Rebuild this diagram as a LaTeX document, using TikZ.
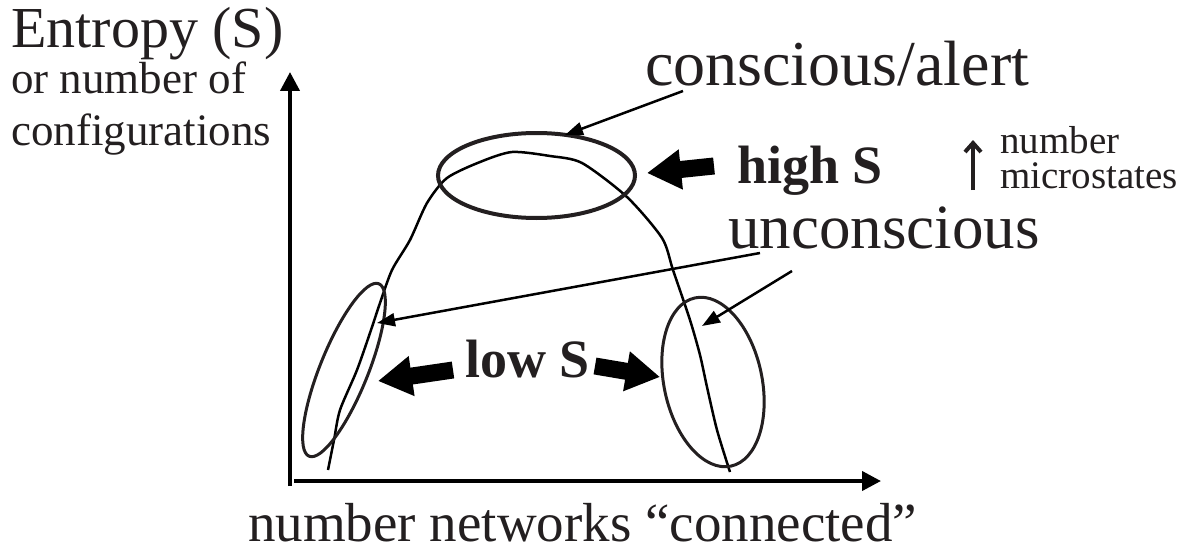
\documentclass[tikz,border=0pt]{standalone}
\usepackage{fontspec}
\setmainfont{Liberation Serif}
\usetikzlibrary{arrows.meta,shapes.geometric}
\definecolor{ink}{HTML}{231F20}
\begin{document}
\begin{tikzpicture}[x=1pt,y=-1pt,
  lbl/.style={anchor=base west,inner sep=0pt,text=ink},
  axisline/.style={line width=4pt,black,-{Triangle[length=19pt,width=19pt]}},
  curvel/.style={line width=2.5pt,black},
  ring/.style={draw=ink,ellipse,inner sep=0pt,line width=3pt},
  pointer/.style={line width=2.5pt,black,-{Triangle[length=18pt,width=13pt]}},
  blockarrow/.style={line width=17pt,black,-{Triangle[length=34pt,width=38pt]}},
  uparrow/.style={line width=4pt,ink,-{Straight Barb[length=9pt,width=16pt,line width=4pt]}}]
\useasboundingbox (0,0) rectangle (1192,551);

% axes
\coordinate (yaxB) at (290,486);
\coordinate (yaxT) at (290,72);
\coordinate (xaxL) at (294,481);
\coordinate (xaxR) at (881,481);
\draw[axisline] (yaxB) -- (yaxT);
\draw[axisline] (xaxL) -- (xaxR);

% entropy curve
\draw[curvel] plot[smooth,tension=0.45] coordinates {
 (328,470) (334,440) (340,410) (357,370) (371,330) (380,303) (392,270)
 (410,240) (427,203) (447,178) (480,162) (512,152) (550,156) (582,163)
 (627,197) (662,238) (673,270) (690,320) (700,355) (707,387) (717,430) (730,472)};

% ellipses
\node[ring,line width=4pt,minimum width=197pt,minimum height=85pt] (top) at (536.5,175.5) {};
\node[ring,minimum width=48pt,minimum height=186pt,rotate=-22] (lell) at (344,370) {};
\node[ring,minimum width=98pt,minimum height=172pt,rotate=12] (rell) at (713,382) {};

% labels
\node[lbl,font=\fontsize{58}{60}\selectfont] (ylab1) at (11,48) {Entropy (S)};
\node[lbl,font=\fontsize{45}{50}\selectfont] (ylab2) at (11,93) {or number of};
\node[lbl,font=\fontsize{45}{50}\selectfont] (ylab3) at (11,145) {configurations};
\node[lbl,font=\fontsize{64}{66}\selectfont] (consc) at (645,85) {conscious/alert};
\node[lbl,font=\fontsize{63}{66}\selectfont] (uncon) at (728,248) {unconscious};
\node[lbl,font=\fontsize{54}{56}\selectfont\bfseries] (highS) at (737,183) {high S};
\node[lbl,font=\fontsize{54}{56}\selectfont\bfseries] (lowS) at (465,377) {low S};
\node[lbl,font=\fontsize{55}{58}\selectfont] (xlab) at (248,541) {number networks “connected”};
\node[lbl,align=left,font=\fontsize{39}{35}\selectfont] (micro) at (1000,188) {number\\microstates};

% thin pointers
\coordinate (caStart) at (683,91);
\coordinate (caTip) at (565,135);
\coordinate (u1Start) at (760,253);
\coordinate (u1Tip) at (377,323);
\coordinate (u2Start) at (792,271);
\coordinate (u2Tip) at (702,326);
\draw[pointer] (caStart) -- (caTip);
\draw[pointer] (u1Start) -- (u1Tip);
\draw[pointer] (u2Start) -- (u2Tip);

% block arrows
\coordinate (hsTail) at (714,166);
\coordinate (hsTip) at (647,173);
\coordinate (lsLTail) at (453,370);
\coordinate (lsLTip) at (378,381);
\coordinate (lsRTail) at (595,366);
\coordinate (lsRTip) at (660,377);
\draw[blockarrow] (hsTail) -- (hsTip);
\draw[blockarrow] (lsLTail) -- (lsLTip);
\draw[blockarrow] (lsRTail) -- (lsRTip);

% microstates arrow
\coordinate (upB) at (973,190);
\coordinate (upT) at (973,140);
\draw[uparrow] (upB) -- (upT);
\end{tikzpicture}
\end{document}
